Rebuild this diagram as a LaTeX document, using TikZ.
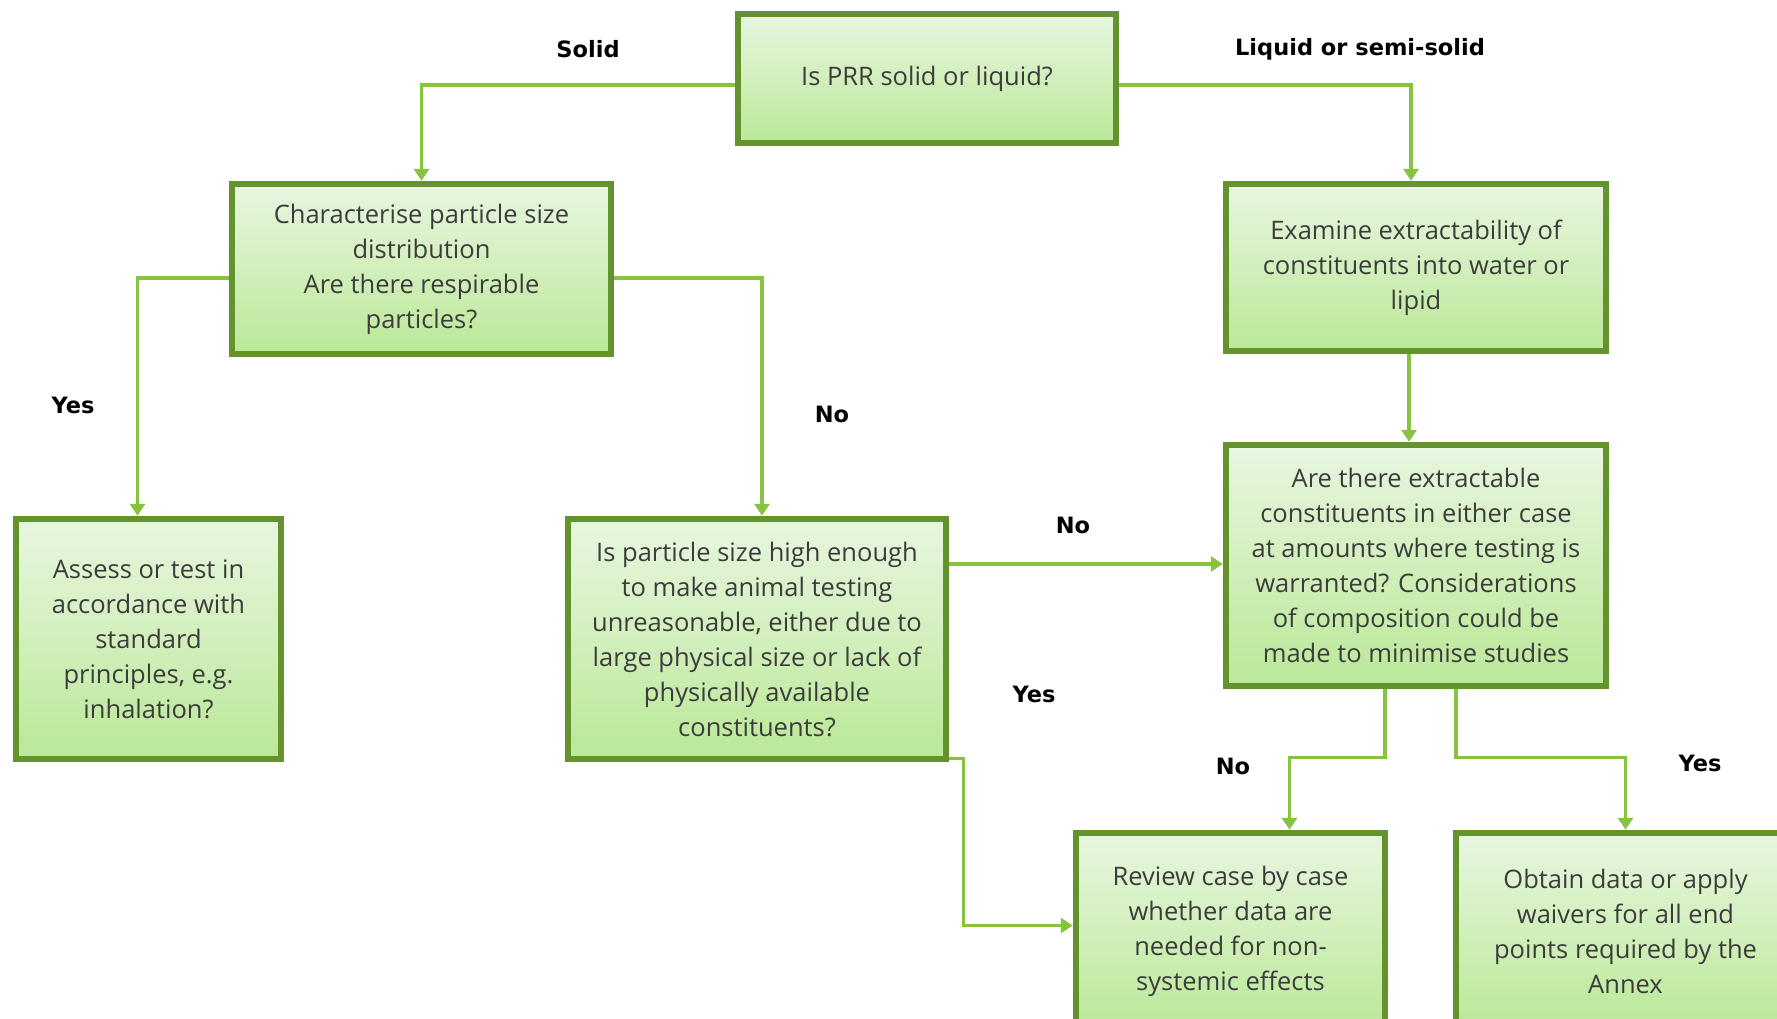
\documentclass[tikz,border=0pt]{standalone}
\usepackage{fontspec}
\setmainfont{Open Sans}
\newfontfamily\labelfont{DejaVu Sans}
\usetikzlibrary{arrows.meta}
\definecolor{boxedge}{HTML}{64922C}
\definecolor{boxtop}{HTML}{E8F6E0}
\definecolor{boxbot}{HTML}{BAE897}
\definecolor{linkgreen}{HTML}{86C440}
\definecolor{boxtext}{HTML}{3C3C3C}
\tikzset{
  flowbox/.style={draw=boxedge, line width=6.5pt, top color=boxtop, bottom color=boxbot,
    align=center, text=boxtext, inner sep=0pt,
    font=\fontsize{25.5}{35}\selectfont},
  conn/.style={draw=linkgreen, line width=3.5pt,
    -{Triangle[length=12pt,width=15pt]}},
  edgelabel/.style={font=\labelfont\bfseries\fontsize{22.5}{26}\selectfont, text=black}
}
\begin{document}
\begin{tikzpicture}[x=1pt,y=-1pt]
\clip (0,0) rectangle (1777,1018);
\useasboundingbox (0,0) rectangle (1777,1018);
\fill[white] (0,0) rectangle (1777,1018);

% decision and action boxes
\node[flowbox, minimum width=378pt, minimum height=129pt] (top) at (927,78.5)
  {Is PRR solid or liquid?};
\node[flowbox, minimum width=379pt, minimum height=170pt] (char) at (421.5,269)
  {Characterise particle size\\distribution\\Are there respirable\\particles?};
\node[flowbox, minimum width=380pt, minimum height=167pt] (exam) at (1416,267.5)
  {Examine extractability of\\constituents into water or\\lipid};
\node[flowbox, minimum width=265pt, minimum height=240pt] (assess) at (148.5,639)
  {Assess or test in\\accordance with\\standard\\principles, e.g.\\inhalation?};
\node[flowbox, minimum width=378pt, minimum height=240pt] (isp) at (757,639)
  {Is particle size high enough\\to make animal testing\\unreasonable, either due to\\large physical size or lack of\\physically available\\constituents?};
\node[flowbox, minimum width=380pt, minimum height=241pt] (are) at (1416,565.5)
  {Are there extractable\\constituents in either case\\at amounts where testing is\\warranted? Considerations\\of composition could be\\made to minimise studies};
\node[flowbox, minimum width=309pt, minimum height=197pt] (review) at (1230.5,931.5)
  {Review case by case\\whether data are\\needed for non-\\systemic effects};
\node[flowbox, minimum width=339pt, minimum height=197pt] (obtain) at (1625.5,931.5)
  {Obtain data or apply\\waivers for all end\\points required by the\\Annex};

% connectors
\draw[conn] ([yshift=-6.5pt]top.west) -| (char.north);
\draw[conn] ([yshift=-6.5pt]top.east) -| ([xshift=-5pt]exam.north);
\draw[conn] ([yshift=-9pt]char.west) -| ([xshift=-11pt]assess.north);
\draw[conn] ([yshift=-9pt]char.east) -| ([xshift=5pt]isp.north);
\draw[conn] ([xshift=-7pt]exam.south) -- ([xshift=-7pt]are.north);
\coordinate (ispno) at ([yshift=75pt]isp.east);
\draw[conn] (ispno) -- (ispno -| are.west);
\coordinate (ispyes) at ([yshift=4pt]isp.south east);
\draw[conn] (ispyes) -- ++(14,0) |- ([yshift=6pt]review.west);
\draw[conn] ([xshift=-31pt]are.south) -- ++(0,68) -| ([xshift=59pt]review.north);
\draw[conn] ([xshift=40pt]are.south) -- ++(0,68) -| (obtain.north);

% branch labels
\node[edgelabel] (lsolid) at (588,49) {Solid};
\node[edgelabel] (lliquid) at (1360,49) {Liquid or semi-solid};
\node[edgelabel] (lyes1) at (73,405) {Yes};
\node[edgelabel] (lno1) at (832,414) {No};
\node[edgelabel] (lno2) at (1073,525) {No};
\node[edgelabel] (lyes2) at (1034,694) {Yes};
\node[edgelabel] (lno3) at (1233,766) {No};
\node[edgelabel] (lyes3) at (1700,763) {Yes};
\end{tikzpicture}
\end{document}
